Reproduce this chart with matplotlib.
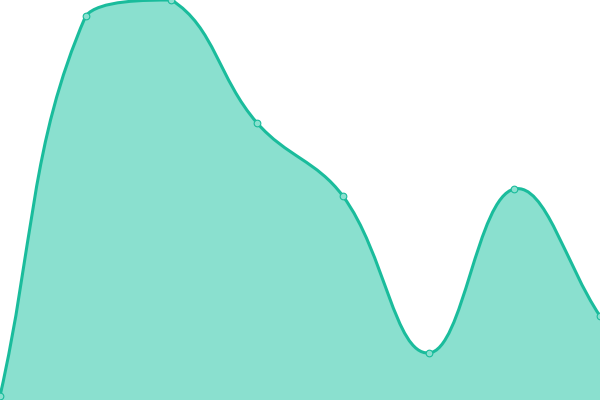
import numpy as np
import matplotlib
matplotlib.use("Agg")
import matplotlib.pyplot as plt
from matplotlib.path import Path
from matplotlib.patches import PathPatch

# data (pixel heights from bottom)
x_vals = [0, 1, 2, 3, 4, 5, 6, 7]
y_vals = [4, 384, 400, 277, 204, 47, 211, 84]

LINE = '#1abc9c'
FILL = '#8ae0cf'
TENSION = 0.4


def spline_controls(pts, t, box):
    # chart.js style bezier control points, capped to the plot area
    n = len(pts)
    ctrl = []
    prev = pts[0]
    for i in range(n):
        cur = pts[i]
        nxt = pts[min(i + 1, n - 1)]
        d01 = np.hypot(*(cur - prev))
        d12 = np.hypot(*(nxt - cur))
        tot = d01 + d12
        s01 = d01 / tot if tot else 0
        s12 = d12 / tot if tot else 0
        c_prev = cur - t * s01 * (nxt - prev)
        c_next = cur + t * s12 * (nxt - prev)
        c_prev = np.clip(c_prev, box[0], box[1])
        c_next = np.clip(c_next, box[0], box[1])
        ctrl.append((c_prev, c_next))
        prev = cur
    return ctrl


fig = plt.figure(figsize=(6, 4), dpi=100)
ax = fig.add_axes([0, 0, 1, 1])
ax.set_xlim(0, 7)
ax.set_ylim(0, 400)
ax.axis('off')

pix = ax.transData.transform(np.column_stack([x_vals, y_vals]))
lo = ax.transData.transform((0, 0))
hi = ax.transData.transform((7, 400))
ctrl = spline_controls(pix, TENSION, (lo, hi))

verts = [pix[0]]
codes = [Path.MOVETO]
for i in range(len(pix) - 1):
    verts += [ctrl[i][1], ctrl[i + 1][0], pix[i + 1]]
    codes += [Path.CURVE4] * 3
verts = ax.transData.inverted().transform(np.array(verts))

line_path = Path(verts, codes)
fill_verts = np.vstack([verts, [[x_vals[-1], 0], [x_vals[0], 0], verts[0]]])
fill_codes = codes + [Path.LINETO, Path.LINETO, Path.CLOSEPOLY]

ax.add_patch(PathPatch(Path(fill_verts, fill_codes), facecolor=FILL, lw=0))
ax.add_patch(PathPatch(line_path, facecolor='none', edgecolor=LINE, lw=2.2))
ax.plot(x_vals, y_vals, 'o', ms=4.8, mfc=FILL, mec=LINE, mew=0.8, clip_on=False)

fig.savefig('out.png', dpi=100)
